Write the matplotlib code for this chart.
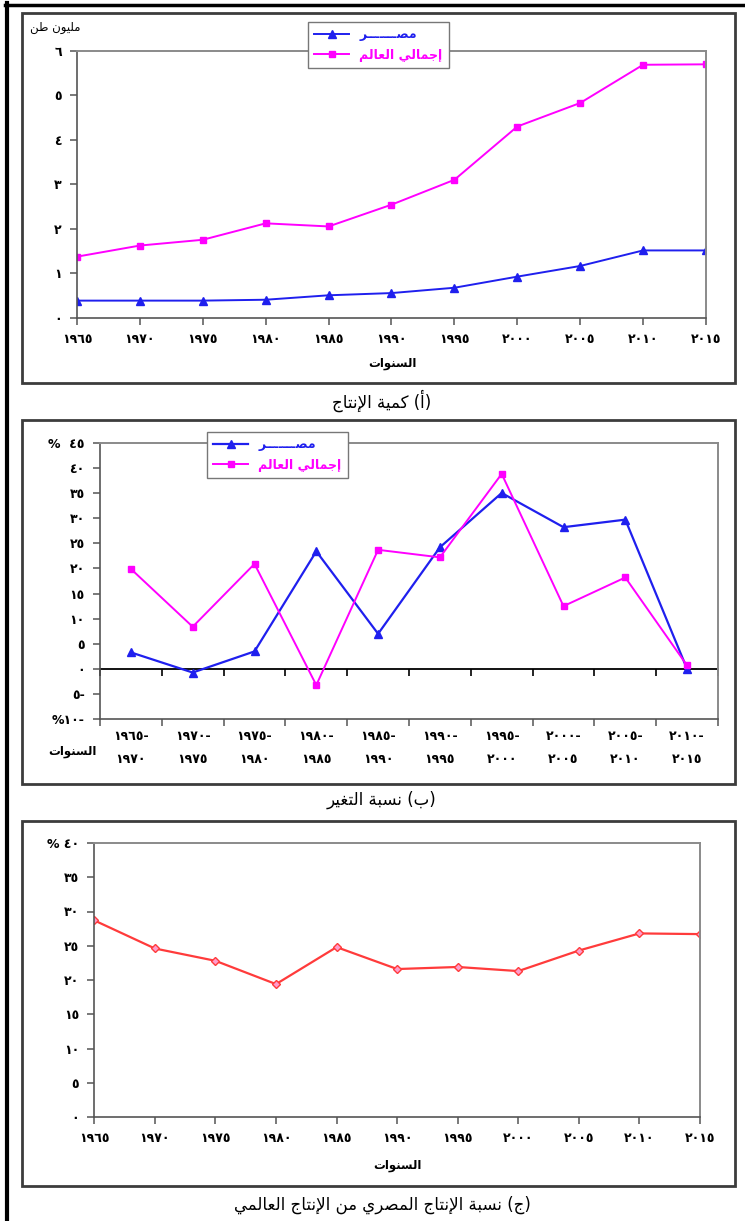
import matplotlib
matplotlib.use('Agg')
import matplotlib.pyplot as plt
from matplotlib.patches import Rectangle
from matplotlib.lines import Line2D

# البيانات
years = [1965, 1970, 1975, 1980, 1985, 1990, 1995, 2000, 2005, 2010, 2015]
egypt = [0.38, 0.38, 0.38, 0.40, 0.50, 0.55, 0.67, 0.92, 1.16, 1.51, 1.51]
world = [1.37, 1.62, 1.75, 2.12, 2.05, 2.54, 3.10, 4.30, 4.83, 5.69, 5.70]

egypt_change = [3.3, -0.7, 3.5, 23.4, 7.0, 24.2, 35.0, 28.2, 29.7, 0.0]
world_change = [19.9, 8.4, 20.9, -3.2, 23.7, 22.2, 38.8, 12.5, 18.2, 0.7]

share = [28.7, 24.6, 22.8, 19.4, 24.8, 21.6, 21.9, 21.3, 24.3, 26.8, 26.7]

lbl_egypt = 'مصـــــــر'
lbl_world = 'إجمالي العالم'
lbl_unit = 'مليون طن'
lbl_years = 'السنوات'
title_a = '(أ) كمية الإنتاج'
title_b = '(ب) نسبة التغير'
title_c = '(ج) نسبة الإنتاج المصري من الإنتاج العالمي'

plt.rcParams['font.family'] = ['DejaVu Sans']

# matplotlib لا يشكّل الحروف العربية، فنحوّلها لأشكال العرض ونقلب الترتيب
FORMS = {
    'ا': ('\uFE8D', '\uFE8E', None, None),
    'أ': ('\uFE83', '\uFE84', None, None),
    'إ': ('\uFE87', '\uFE88', None, None),
    'ب': ('\uFE8F', '\uFE90', '\uFE91', '\uFE92'),
    'ة': ('\uFE93', '\uFE94', None, None),
    'ت': ('\uFE95', '\uFE96', '\uFE97', '\uFE98'),
    'ج': ('\uFE9D', '\uFE9E', '\uFE9F', '\uFEA0'),
    'ر': ('\uFEAD', '\uFEAE', None, None),
    'س': ('\uFEB1', '\uFEB2', '\uFEB3', '\uFEB4'),
    'ص': ('\uFEB9', '\uFEBA', '\uFEBB', '\uFEBC'),
    'ط': ('\uFEC1', '\uFEC2', '\uFEC3', '\uFEC4'),
    'ع': ('\uFEC9', '\uFECA', '\uFECB', '\uFECC'),
    'غ': ('\uFECD', '\uFECE', '\uFECF', '\uFED0'),
    'ك': ('\uFED9', '\uFEDA', '\uFEDB', '\uFEDC'),
    'ل': ('\uFEDD', '\uFEDE', '\uFEDF', '\uFEE0'),
    'م': ('\uFEE1', '\uFEE2', '\uFEE3', '\uFEE4'),
    'ن': ('\uFEE5', '\uFEE6', '\uFEE7', '\uFEE8'),
    'و': ('\uFEED', '\uFEEE', None, None),
    'ي': ('\uFEF1', '\uFEF2', '\uFEF3', '\uFEF4'),
}
LAM_ALEF = {'ا': ('\uFEFB', '\uFEFC'), 'أ': ('\uFEF7', '\uFEF8'), 'إ': ('\uFEF9', '\uFEFA')}
TATWEEL = 'ـ'


def joins_next(c):
    return c == TATWEEL or (c in FORMS and FORMS[c][2] is not None)


def joins_prev(c):
    return c == TATWEEL or c in FORMS


def ar(text):
    out = []
    i = 0
    n = len(text)
    while i < n:
        c = text[i]
        prev = text[i - 1] if i > 0 else ''
        nxt = text[i + 1] if i + 1 < n else ''
        if c == 'ل' and nxt in LAM_ALEF:
            iso, fin = LAM_ALEF[nxt]
            out.append(fin if joins_next(prev) else iso)
            i += 2
            continue
        if c in FORMS:
            iso, fin, ini, med = FORMS[c]
            p = joins_next(prev)
            q = ini is not None and joins_prev(nxt)
            if p and q:
                out.append(med)
            elif p:
                out.append(fin)
            elif q:
                out.append(ini)
            else:
                out.append(iso)
        else:
            out.append(c)
        i += 1
    vis = ''.join(reversed(out))
    return vis.translate(str.maketrans('()', ')('))


DIG = str.maketrans('0123456789', '٠١٢٣٤٥٦٧٨٩')


def num(v):
    return str(v).translate(DIG)


W, H = 745, 1221


def fx(x):
    return x / W


def fy(y):
    return 1 - y / H


def axes_px(x0, y0, x1, y1):
    return fig.add_axes([fx(x0), fy(y1), (x1 - x0) / W, (y1 - y0) / H])


def style(ax):
    for s in ['top', 'right']:
        ax.spines[s].set_color('#8a8a8a')
        ax.spines[s].set_linewidth(1.4)
    for s in ['left', 'bottom']:
        ax.spines[s].set_color('#555555')
        ax.spines[s].set_linewidth(1.2)
    ax.tick_params(direction='out', length=5, width=1.1, color='#555555', labelsize=9, pad=6)
    for t in ax.get_xticklabels() + ax.get_yticklabels():
        t.set_fontweight('bold')


blue = '#1f1fee'
pink = '#ff00ff'
red = '#ff3b3b'

fig = plt.figure(figsize=(W / 100, H / 100), dpi=100)

# الإطار الخارجي
fig.add_artist(Line2D([fx(7), fx(7)], [0, fy(3)], color='black', lw=3, transform=fig.transFigure))
fig.add_artist(Line2D([fx(5), 1], [fy(4.5), fy(4.5)], color='black', lw=2.5, transform=fig.transFigure))
for y0, y1 in [(13, 383), (420, 784), (821, 1186)]:
    fig.add_artist(Rectangle((fx(22), fy(y1)), (735 - 22) / W, (y1 - y0) / H, fill=False,
                             ec='#3c3c3c', lw=2, transform=fig.transFigure))

# (أ) كمية الإنتاج
ax1 = axes_px(77, 51, 706, 317.5)
ax1.plot(years, egypt, color=blue, lw=1.4, marker='^', ms=6, label=ar(lbl_egypt))
ax1.plot(years, world, color=pink, lw=1.4, marker='s', ms=5, label=ar(lbl_world))
ax1.set_xlim(1965, 2015)
ax1.set_ylim(0, 6)
ax1.set_xticks(years)
ax1.set_xticklabels([num(y) for y in years])
ax1.set_yticks(range(7))
ax1.set_yticklabels([num(v) for v in range(7)])
style(ax1)
ax1.legend(loc='upper left', bbox_to_anchor=(fx(308), fy(22)), bbox_transform=fig.transFigure,
           borderaxespad=0, fancybox=False, edgecolor='#777777', framealpha=1,
           labelcolor='linecolor', prop={'weight': 'bold', 'size': 9}, handlelength=2.8,
           borderpad=0.5, labelspacing=0.6)
fig.text(fx(55), fy(28), ar(lbl_unit), ha='center', va='center', fontsize=8.5)
fig.text(fx(392), fy(363), ar(lbl_years), ha='center', va='center', fontsize=8.5, fontweight='bold')
fig.text(fx(382), fy(401), ar(title_a), ha='center', va='center', fontsize=12)

# (ب) نسبة التغير
periods = [f'{num(a)}-\n{num(a + 5)}' for a in years[:-1]]
pos = [i + 0.5 for i in range(len(periods))]
ax2 = axes_px(100, 442.7, 718, 719.3)
ax2.plot(pos, egypt_change, color=blue, lw=1.6, marker='^', ms=6, label=ar(lbl_egypt))
ax2.plot(pos, world_change, color=pink, lw=1.4, marker='s', ms=5, label=ar(lbl_world))
ax2.set_xlim(0, 10)
ax2.set_ylim(-10, 45)
ax2.set_xticks(range(11))
ax2.set_xticklabels([])
ax2.set_xticks(pos, minor=True)
ax2.set_xticklabels(periods, minor=True, linespacing=2.0)
ax2.tick_params(axis='x', which='minor', length=0, pad=8)
yt = list(range(-10, 50, 5))
ylab = []
for v in yt:
    if v == 45:
        ylab.append('%  ' + num(v))
    elif v == -10:
        ylab.append('%' + num(-v) + '-')
    elif v < 0:
        ylab.append(num(-v) + '-')
    else:
        ylab.append(num(v))
ax2.set_yticks(yt)
ax2.set_yticklabels(ylab)
style(ax2)
for t in ax2.get_xticklabels(minor=True):
    t.set_fontweight('bold')
    t.set_fontsize(9)
sec = ax2.secondary_xaxis(10 / 55)
sec.set_xticks(range(11))
sec.set_xticklabels([])
sec.tick_params(direction='out', length=5, width=1.2, color='black')
sec.spines['bottom'].set_color('black')
sec.spines['bottom'].set_linewidth(1.3)
ax2.legend(loc='upper left', bbox_to_anchor=(fx(207), fy(432)), bbox_transform=fig.transFigure,
           borderaxespad=0, fancybox=False, edgecolor='#777777', framealpha=1,
           labelcolor='linecolor', prop={'weight': 'bold', 'size': 9}, handlelength=2.8,
           borderpad=0.5, labelspacing=0.6)
fig.text(fx(72), fy(752), ar(lbl_years), ha='center', va='center', fontsize=8.5, fontweight='bold')
fig.text(fx(382), fy(800), ar(title_b), ha='center', va='center', fontsize=12)

# (ج) نسبة الإنتاج المصري من الإنتاج العالمي
ax3 = axes_px(94.3, 843, 700, 1117)
ax3.plot(years, share, color=red, lw=1.6, marker='D', ms=4, mfc='#ff9ccc', mec=red, mew=1)
ax3.set_xlim(1965, 2015)
ax3.set_ylim(0, 40)
ax3.set_xticks(years)
ax3.set_xticklabels([num(y) for y in years])
yt3 = list(range(0, 45, 5))
ax3.set_yticks(yt3)
ax3.set_yticklabels([('% ' + num(v)) if v == 40 else num(v) for v in yt3])
style(ax3)
fig.text(fx(397), fy(1165), ar(lbl_years), ha='center', va='center', fontsize=8.5, fontweight='bold')
fig.text(fx(382), fy(1205), ar(title_c), ha='center', va='center', fontsize=12)

plt.savefig('out.png', dpi=100)
